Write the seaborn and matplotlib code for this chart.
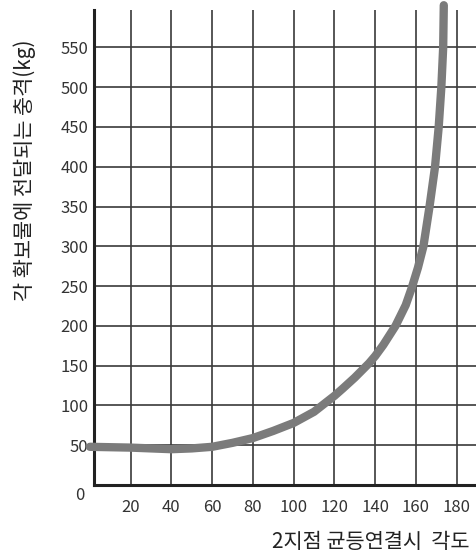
import matplotlib
matplotlib.use("Agg")
import matplotlib.pyplot as plt
import matplotlib.transforms as mtransforms
import seaborn as sns
import pandas as pd

# Data
angles = [0, 20, 40, 50, 60, 70, 80, 90, 100, 110, 113, 120, 124, 130, 137, 140, 144, 150,
          155, 158, 161, 163.7, 166.7, 169.4, 171.2, 172.5, 173.4, 173.7]
impact = [48, 47, 45, 46, 48, 53, 59, 68, 78, 92, 98, 112, 121, 135, 153, 162, 176, 200,
          226, 248, 273, 300, 350, 400, 450, 500, 550, 603]
x_ticks = [20, 40, 60, 80, 100, 120, 140, 160, 180]
y_ticks = [0, 50, 100, 150, 200, 250, 300, 350, 400, 450, 500, 550]
x_label = "2지점 균등연결시  각도"
y_label = "각 확보물에 전달되는 충격(kg)"

sns.set_theme(style="white")
plt.rcParams['font.family'] = ['Noto Sans CJK KR', 'DejaVu Sans']

df = pd.DataFrame({"angle": angles, "impact": impact})

fig = plt.figure(figsize=(4.77, 5.54), dpi=100)
ax = fig.add_axes([94/477, 69/554, 1 - 94/477, (485 - 10)/554])

ax.set_xlim(2, 190)
ax.set_ylim(0, 597)

ax.set_xticks(x_ticks)
ax.set_yticks(y_ticks)
ax.grid(True, color="#3a3a3a", linewidth=1.2)
ax.set_axisbelow(True)

sns.lineplot(data=df, x="angle", y="impact", ax=ax, color="#7b7b7b",
             linewidth=6, solid_capstyle="round", solid_joinstyle="round",
             clip_on=False, zorder=5)

for s in ["top", "right"]:
    ax.spines[s].set_visible(False)
for s in ["left", "bottom"]:
    ax.spines[s].set_color("#222222")
    ax.spines[s].set_linewidth(2.2)

ax.tick_params(axis="both", length=0, labelsize=12, colors="#333333")
ax.tick_params(axis="y", pad=4)
ax.tick_params(axis="x", pad=10)
ax.set_xticklabels([str(t) for t in x_ticks])
ax.set_yticklabels([str(t) for t in y_ticks])

# shift the "0" label slightly down/left as in the reference
lbl0 = ax.get_yticklabels()[0]
lbl0.set_transform(lbl0.get_transform() + mtransforms.ScaledTranslation(-4/100, -8/100, fig.dpi_scale_trans))

ax.set_xlabel("")
ax.set_ylabel("")
fig.text(470/477, 1 - 542/554, x_label, ha="right", va="center", fontsize=15, color="#222222")
fig.text(25/477, 1 - 170/554, y_label, ha="center", va="center", rotation=90, fontsize=15, color="#222222")

fig.savefig("out.png", dpi=100)
